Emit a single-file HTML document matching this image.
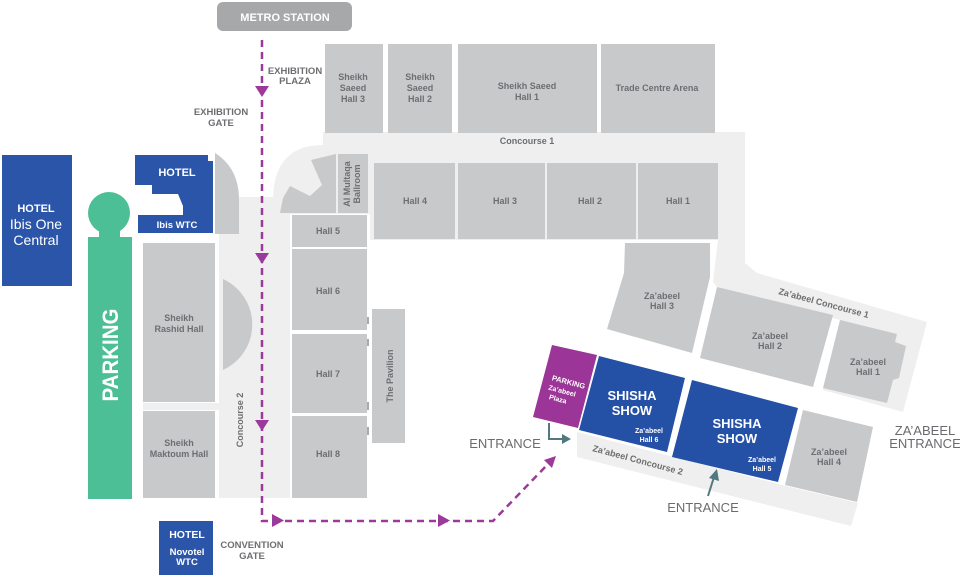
<!DOCTYPE html>
<html><head><meta charset="utf-8"><style>
html,body{margin:0;padding:0;background:#fff;}
svg{display:block;}
text{font-family:"Liberation Sans",Arial,sans-serif;}
.h{fill:#c8c9cb;}
.l{fill:#6d6e71;font-weight:bold;font-size:9px;text-anchor:middle;}
.w{fill:#fff;font-weight:bold;text-anchor:middle;}
.g{fill:#6a6b6e;font-size:13px;text-anchor:middle;}
.s{fill:#6d6e71;font-weight:bold;font-size:9.5px;text-anchor:middle;}
</style></head><body>
<svg width="960" height="575" viewBox="0 0 960 575" xmlns="http://www.w3.org/2000/svg">
<!-- light concourse areas -->
<path fill="#efefef" d="M219,197 L273,197 Q275,145 323,145 L323,132 L745,132 L745,263 L757,273 L927,322 L903,412 L823,390 L840,320 L717,287 L713,282 L718,240 L370,240 L370,214 L290,214 L290,498 L219,498 Z"/>
<polygon fill="#efefef" points="577,432 790,487 858,503 851,526 577,457"/>
<rect fill="#efefef" x="143" y="403" width="80" height="7"/>

<!-- metro -->
<rect x="217" y="2" width="135" height="29" rx="6" fill="#a7a8aa"/>
<text class="w" x="285" y="21" font-size="11">METRO STATION</text>

<!-- top row halls -->
<rect class="h" x="325" y="44" width="58" height="89"/>
<rect class="h" x="388" y="44" width="64" height="89"/>
<rect class="h" x="458" y="44" width="139" height="89"/>
<rect class="h" x="601" y="44" width="114" height="89"/>
<text class="l"><tspan x="353" y="80">Sheikh</tspan><tspan x="353" y="91">Saeed</tspan><tspan x="353" y="102">Hall 3</tspan></text>
<text class="l"><tspan x="420" y="80">Sheikh</tspan><tspan x="420" y="91">Saeed</tspan><tspan x="420" y="102">Hall 2</tspan></text>
<text class="l"><tspan x="527" y="89">Sheikh Saeed</tspan><tspan x="527" y="100">Hall 1</tspan></text>
<text class="l" x="657" y="91">Trade Centre Arena</text>
<text class="l" x="527" y="144">Concourse 1</text>

<!-- second row -->
<rect class="h" x="374" y="163" width="81" height="76"/>
<rect class="h" x="458" y="163" width="87" height="76"/>
<rect class="h" x="547" y="163" width="89" height="76"/>
<rect class="h" x="638" y="163" width="80" height="76"/>
<text class="l" x="415" y="204">Hall 4</text>
<text class="l" x="505" y="204">Hall 3</text>
<text class="l" x="590" y="204">Hall 2</text>
<text class="l" x="678" y="204">Hall 1</text>

<!-- fan + Al Multaqa -->
<polygon class="h" points="280,213 283,198 290,186 310,196 322,185 311,160 336,154 336,213"/>
<rect class="h" x="338" y="154" width="30" height="59"/>
<text class="l" font-size="8.5" transform="translate(350,184) rotate(-90)"><tspan x="0" y="0">Al Multaqa</tspan><tspan x="0" y="10">Ballroom</tspan></text>

<!-- hall column 5-8 -->
<rect class="h" x="292" y="215" width="75" height="32"/>
<rect class="h" x="292" y="249" width="75" height="81"/>
<rect class="h" x="292" y="334" width="75" height="79"/>
<rect class="h" x="292" y="416" width="75" height="82"/>
<text class="l" x="328" y="234">Hall 5</text>
<text class="l" x="328" y="294">Hall 6</text>
<text class="l" x="328" y="377">Hall 7</text>
<text class="l" x="328" y="457">Hall 8</text>
<rect class="h" x="372" y="309" width="33" height="134"/>
<text class="l" transform="translate(393,376) rotate(-90)" x="0" y="0">The Pavilion</text>
<g fill="#a9aaac"><rect x="367" y="317" width="2" height="7"/><rect x="367" y="339" width="2" height="7"/><rect x="367" y="402" width="2" height="8"/><rect x="367" y="427" width="2" height="8"/></g>

<!-- left halls -->
<rect class="h" x="143" y="243" width="72" height="159"/>
<rect class="h" x="143" y="411" width="72" height="87"/>
<text class="l"><tspan x="179" y="321">Sheikh</tspan><tspan x="179" y="332">Rashid Hall</tspan></text>
<text class="l"><tspan x="179" y="446">Sheikh</tspan><tspan x="179" y="457">Maktoum Hall</tspan></text>
<path class="h" d="M215,153 Q239,168 239,200 L239,234 L215,234 Z"/>
<path class="h" d="M223,279 A50,50 0 0 1 223,370 Z"/>
<text class="l" transform="translate(243,420) rotate(-90)" x="0" y="0">Concourse 2</text>

<!-- hotels -->
<rect x="2" y="155" width="70" height="131" fill="#2a55a8"/>
<text class="w" x="36" y="212" font-size="11">HOTEL</text>
<text class="w" x="36" y="229" style="font-weight:normal;font-size:14px">Ibis One</text>
<text class="w" x="36" y="245" style="font-weight:normal;font-size:14px">Central</text>
<polygon fill="#2a55a8" points="135,155 208,155 208,161 213,161 213,233 138,233 138,215 183,215 183,206 178,194 152,194 152,185 135,185"/>
<text class="w" x="177" y="176" font-size="11">HOTEL</text>
<text class="w" x="177" y="228" font-size="9.5">Ibis WTC</text>
<rect x="159" y="521" width="54" height="54" fill="#2a55a8"/>
<text class="w" x="187" y="538" font-size="10.5">HOTEL</text>
<text class="w" x="187" y="555" font-size="9.5">Novotel</text>
<text class="w" x="187" y="565" font-size="9.5">WTC</text>

<!-- green parking -->
<circle cx="109" cy="213" r="21" fill="#4dbf96"/>
<rect x="99" y="226" width="21" height="14" fill="#4dbf96"/>
<rect x="88" y="237" width="44" height="262" fill="#4dbf96"/>
<text class="w" font-size="22" transform="translate(118,355) rotate(-90)" x="0" y="0" textLength="93" lengthAdjust="spacingAndGlyphs">PARKING</text>

<!-- Za'abeel halls -->
<polygon class="h" points="625,243 710,243 710,277 692,353 607,329 624,273"/>
<polygon class="h" points="717,287 833,315 813,387 700,358"/>
<polygon class="h" points="840,320 897,334 895,342 906,346 899,378 893,380 887,403 823,388"/>
<polygon class="h" points="803,410 873,427 857,502 785,485"/>
<text class="l" font-size="8.5"><tspan x="662" y="299">Za’abeel</tspan><tspan x="662" y="309">Hall 3</tspan></text>
<text class="l" font-size="8.5"><tspan x="770" y="339">Za’abeel</tspan><tspan x="770" y="349">Hall 2</tspan></text>
<text class="l" font-size="8.5"><tspan x="868" y="365">Za’abeel</tspan><tspan x="868" y="375">Hall 1</tspan></text>
<text class="l" font-size="8.5"><tspan x="829" y="455">Za’abeel</tspan><tspan x="829" y="465">Hall 4</tspan></text>
<text class="l" font-size="8.5" transform="translate(823,306) rotate(15)" x="0" y="0">Za’abeel Concourse 1</text>
<text class="l" font-size="8.5" transform="translate(637,463) rotate(15)" x="0" y="0">Za’abeel Concourse 2</text>

<!-- purple parking + shisha -->
<polygon points="552,345 597,355 578,428 533,417" fill="#9b3597"/>
<g transform="translate(566,384) rotate(15)">
<text class="w" font-size="7.5" x="2" y="0">PARKING</text>
<text class="w" font-size="7" x="-2" y="10">Za’abeel</text>
<text class="w" font-size="7" x="-4" y="19">Plaza</text>
</g>
<polygon points="599,356 685,378 667,452 579,430" fill="#2450a6"/>
<polygon points="692,380 798,408 778,482 672,457" fill="#2450a6"/>
<text class="w" x="632" y="400" font-size="13">SHISHA</text>
<text class="w" x="632" y="415" font-size="13">SHOW</text>
<text class="w" x="649" y="433" font-size="7">Za’abeel</text>
<text class="w" x="649" y="442" font-size="7">Hall 6</text>
<text class="w" x="737" y="428" font-size="13">SHISHA</text>
<text class="w" x="737" y="443" font-size="13">SHOW</text>
<text class="w" x="762" y="462" font-size="7">Za’abeel</text>
<text class="w" x="762" y="471" font-size="7">Hall 5</text>

<!-- labels -->
<text class="s" x="295" y="74" font-size="9">EXHIBITION</text>
<text class="s" x="295" y="84" font-size="9">PLAZA</text>
<text class="s" x="221" y="115" font-size="10.5">EXHIBITION</text>
<text class="s" x="221" y="126" font-size="10.5">GATE</text>
<text class="s" x="252" y="548" font-size="9.5">CONVENTION</text>
<text class="s" x="252" y="559" font-size="9.5">GATE</text>
<text class="g" x="505" y="448">ENTRANCE</text>
<text class="g" x="703" y="512">ENTRANCE</text>
<text class="g" x="925" y="435">ZA’ABEEL</text>
<text class="g" x="925" y="448">ENTRANCE</text>

<!-- entrance arrows -->
<g stroke="#52797f" stroke-width="2" fill="none"><path d="M549,423 L549,439 L563,439"/><path d="M708,496 L714,477"/></g>
<polygon fill="#52797f" points="571,439 562,434 562,444"/>
<polygon fill="#52797f" points="717,469 709,478 719,481"/>

<!-- purple dashed route -->
<path d="M262,40 L262,521 L493,521 L549,463" fill="none" stroke="#9c3a9c" stroke-width="2.5" stroke-dasharray="7,5"/>
<g fill="#9c3a9c">
<polygon points="255,86 269,86 262,97"/>
<polygon points="255,253 269,253 262,264"/>
<polygon points="255,420 269,420 262,431"/>
<polygon points="272,514 272,527 284,520.5"/>
<polygon points="438,514 438,527 450,520.5"/>
<polygon points="556,456 544,460 552,468"/>
</g>
</svg>
</body></html>
